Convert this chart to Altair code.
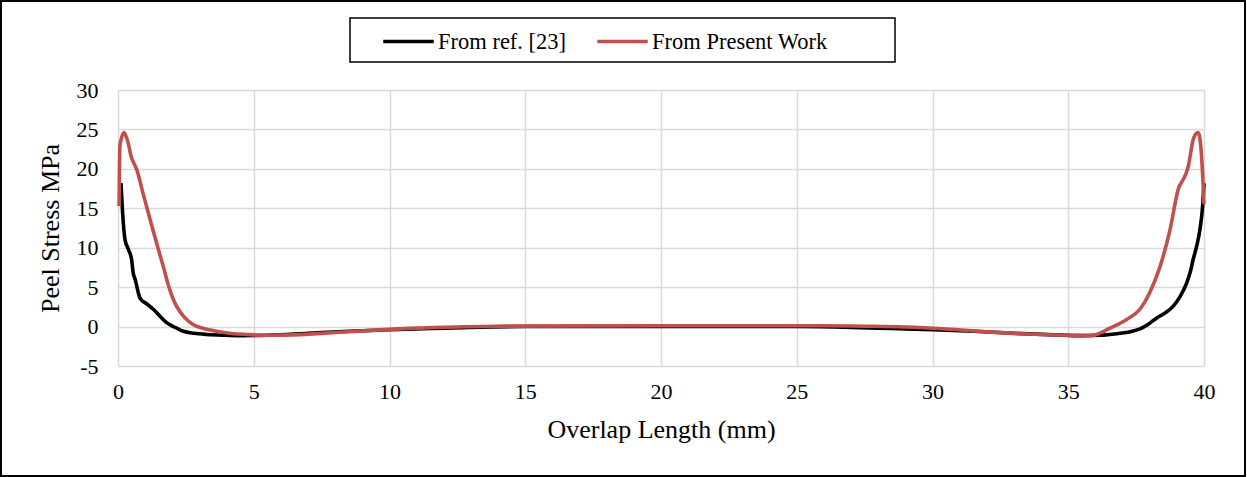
import altair as alt
import pandas as pd

# Series
ref_x = [0.11, 0.17, 0.26, 0.38, 0.5, 0.56, 0.63, 0.81, 1.05, 1.3, 1.55, 1.79, 2.1, 2.4, 2.8,
         3.27, 3.9, 4.5, 5.5, 7, 8.5, 10, 11.5, 13, 15, 20, 25, 27, 28.5, 30, 31.5, 33, 34.5,
         35.5, 36.17, 36.8, 37.3, 37.64, 37.95, 38.26, 38.6, 38.87, 39.1, 39.36, 39.5, 39.6,
         39.73, 39.85, 39.95, 40.0]
ref_y = [18.2, 14.4, 11.0, 9.8, 8.5, 6.8, 6.0, 3.6, 2.9, 2.2, 1.3, 0.5, -0.1, -0.6, -0.85,
         -1.0, -1.1, -1.15, -1.1, -0.85, -0.6, -0.4, -0.25, -0.1, 0.0, 0.0, 0.0, -0.1, -0.25,
         -0.4, -0.6, -0.85, -1.05, -1.15, -1.1, -0.9, -0.65, -0.3, 0.3, 1.1, 1.8, 2.6, 3.7,
         5.5, 7.0, 8.5, 10.2, 12.3, 15.3, 18.2]

pw_x = [0.04, 0.07, 0.13, 0.22, 0.35, 0.5, 0.6, 0.69, 0.9, 1.18, 1.42, 1.67, 1.85, 2.04, 2.3,
        2.53, 2.75, 3.02, 3.4, 3.76, 4.25, 4.74, 5.5, 6.5, 8, 9.5, 11, 12.5, 14, 20, 26, 27.5,
        29, 30.5, 32, 33.5, 35, 35.8, 36.05, 36.54, 37.15, 37.64, 38.0, 38.38, 38.75, 39.05,
        39.3, 39.42, 39.6, 39.72, 39.79, 39.91, 40.0]
pw_y = [15.3, 22.9, 23.9, 24.6, 23.6, 21.4, 20.6, 19.9, 17.2, 13.6, 10.6, 7.6, 5.3, 3.4, 1.8,
        0.9, 0.3, -0.1, -0.45, -0.7, -0.9, -1.0, -1.1, -1.05, -0.75, -0.45, -0.2, -0.05, 0.05,
        0.1, 0.1, 0.05, -0.05, -0.3, -0.65, -0.95, -1.1, -1.15, -1.0, -0.2, 0.9, 2.2, 4.3, 7.6,
        12.3, 17.4, 19.1, 20.3, 23.7, 24.5, 24.6, 21.6, 15.5]

series_names = ["From ref. [23]", "From Present Work"]
series_colors = ["#000000", "#C0504D"]
x_ticks = [0, 5, 10, 15, 20, 25, 30, 35, 40]
y_ticks = [-5, 0, 5, 10, 15, 20, 25, 30]

rows = []
for i, (xv, yv) in enumerate(zip(ref_x, ref_y)):
    rows.append({"series": series_names[0], "x": xv, "y": yv, "order": i})
for i, (xv, yv) in enumerate(zip(pw_x, pw_y)):
    rows.append({"series": series_names[1], "x": xv, "y": yv, "order": i})
df = pd.DataFrame(rows)

FONT = "Liberation Serif"

lines = alt.Chart(df).mark_line(strokeWidth=3.6, interpolate="monotone").encode(
    x=alt.X("x:Q", scale=alt.Scale(domain=[0, 40], nice=False),
            axis=alt.Axis(values=x_ticks, title="Overlap Length (mm)", labelPadding=15,
                          titlePadding=14, labelFlush=False, labelOverlap=False)),
    y=alt.Y("y:Q", scale=alt.Scale(domain=[-5, 30], nice=False),
            axis=alt.Axis(values=y_ticks, title="Peel Stress MPa", labelPadding=20,
                          titlePadding=13, labelFlush=False, labelOverlap=False,
                          labelExpr="replace(datum.label, '\u2212', '-')")),
    color=alt.Color("series:N", scale=alt.Scale(domain=series_names, range=series_colors),
                    legend=alt.Legend(title=None, orient="none", legendX=263, legendY=-76,
                                      direction="horizontal", symbolType="stroke",
                                      symbolSize=2550, symbolStrokeWidth=3.6,
                                      labelFont=FONT, labelFontSize=22.5, labelOffset=2,
                                      labelLimit=0, columnPadding=23, padding=0,
                                      labelColor="#000000")),
    order="order:Q",
    detail="series:N",
)

frame_df = pd.DataFrame({"k": [0]})
outer = alt.Chart(frame_df).mark_rect(fill=None, stroke="#000000", strokeWidth=2).encode(
    x=alt.value(-117), x2=alt.value(1127), y=alt.value(-89), y2=alt.value(386))
legend_box = alt.Chart(frame_df).mark_rect(fill=None, stroke="#000000", strokeWidth=1.5).encode(
    x=alt.value(232), x2=alt.value(777), y=alt.value(-72), y2=alt.value(-28))

chart = alt.layer(lines, outer, legend_box).properties(
    width=1086, height=276,
    autosize=alt.AutoSizeParams(type="none"),
    padding={"left": 118, "top": 90, "right": 43, "bottom": 111},
    background="white",
).configure_view(stroke=None).configure_axis(
    grid=True, gridColor="#d9d9d9", gridWidth=1.5, domain=False, ticks=False,
    labelFont=FONT, labelFontSize=22, labelColor="#000000",
    titleFont=FONT, titleFontSize=26, titleFontWeight="normal", titleColor="#000000",
)

chart.save("out.html", embed_options={"renderer": "svg", "actions": False})
